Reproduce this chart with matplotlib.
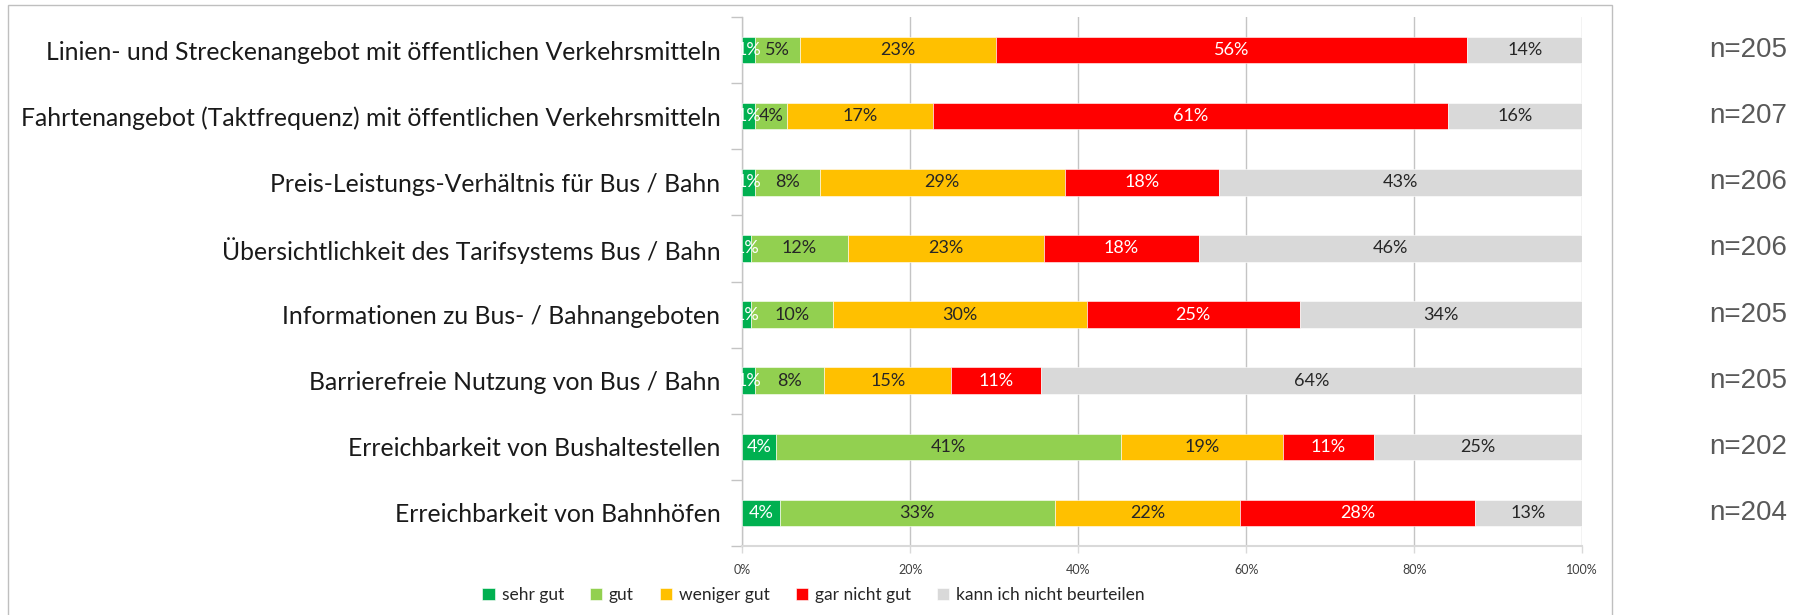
import matplotlib
matplotlib.use("Agg")
import matplotlib.pyplot as plt
from matplotlib.patches import Rectangle
from matplotlib.ticker import FixedLocator, PercentFormatter
import matplotlib.transforms as mtransforms

categories = [
    "Linien- und Streckenangebot mit öffentlichen Verkehrsmitteln",
    "Fahrtenangebot (Taktfrequenz) mit öffentlichen Verkehrsmitteln",
    "Preis-Leistungs-Verhältnis für Bus / Bahn",
    "Übersichtlichkeit des Tarifsystems Bus / Bahn",
    "Informationen zu Bus- / Bahnangeboten",
    "Barrierefreie Nutzung von Bus / Bahn",
    "Erreichbarkeit von Bushaltestellen",
    "Erreichbarkeit von Bahnhöfen",
]
n_labels = ["n=205", "n=207", "n=206", "n=206", "n=205", "n=205", "n=202", "n=204"]

series_names = ["sehr gut", "gut", "weniger gut", "gar nicht gut", "kann ich nicht beurteilen"]
sehr_gut = [1.46, 1.45, 1.46, 0.97, 0.98, 1.46, 3.96, 4.41]
gut = [5.37, 3.86, 7.77, 11.65, 9.76, 8.29, 41.09, 32.84]
weniger_gut = [23.41, 17.39, 29.13, 23.30, 30.24, 15.12, 19.31, 22.06]
gar_nicht_gut = [56.10, 61.35, 18.45, 18.45, 25.37, 10.73, 10.89, 27.94]
kann_nicht = [13.66, 15.94, 43.20, 45.63, 33.66, 64.39, 24.75, 12.75]
series_values = [sehr_gut, gut, weniger_gut, gar_nicht_gut, kann_nicht]

colors = ["#00B050", "#92D050", "#FFC000", "#FF0000", "#D9D9D9"]
label_colors = ["white", "#262626", "#262626", "white", "#262626"]
x_ticks = [0, 20, 40, 60, 80, 100]

W, H = 1799, 615
fig = plt.figure(figsize=(W / 100, H / 100), dpi=100)
ax_left, ax_right = 742.5, 1582.0
ax_top, ax_bottom = 17.0, 546.0
ax = fig.add_axes([ax_left / W, (H - ax_bottom) / H, (ax_right - ax_left) / W, (ax_bottom - ax_top) / H])

ypos = list(range(len(categories)))
lefts = [0.0] * len(categories)
for name, vals, col, lc in zip(series_names, series_values, colors, label_colors):
    ax.barh(ypos, vals, left=lefts, height=0.4, color=col, edgecolor="white",
            linewidth=0.4, label=name, zorder=3)
    for y, l, v in zip(ypos, lefts, vals):
        ax.text(l + v / 2, y, f"{v:.0f}%", ha="center", va="center", color=lc,
                fontsize=13, family="Lato", zorder=4)
    lefts = [a + b for a, b in zip(lefts, vals)]

ax.set_xlim(0, 100)
ax.set_ylim(len(categories) - 0.5, -0.5)
ax.xaxis.set_major_locator(FixedLocator(x_ticks))
ax.xaxis.set_major_formatter(PercentFormatter(decimals=0))
ax.grid(axis="x", color="#c4c4c4", linewidth=1.0, zorder=0)
ax.set_axisbelow(True)
for s in ["top", "right"]:
    ax.spines[s].set_visible(False)
ax.spines["bottom"].set_color("#d9d9d9")
ax.spines["bottom"].set_linewidth(1.5)
ax.spines["left"].set_color("#c4c4c4")
ax.spines["left"].set_linewidth(1.0)
ax.tick_params(axis="x", colors="#d9d9d9", length=5, width=1, labelcolor="#404040",
               labelsize=9, pad=8)
for t in ax.get_xticklabels():
    t.set_family("Lato")

ax.set_yticks(ypos)
ax.set_yticklabels(categories, family="Lato", fontsize=17.8, color="#1a1a1a")
ax.tick_params(axis="y", which="major", length=0, pad=16)
ax.set_yticks([y + 0.5 for y in range(-1, len(categories))], minor=True)
ax.tick_params(axis="y", which="minor", length=8, color="#c4c4c4", width=1)

trans = mtransforms.blended_transform_factory(fig.transFigure, ax.transData)
for y, t in zip(ypos, n_labels):
    ax.text(1787 / W, y, t, transform=trans, ha="right", va="center",
            fontsize=20, color="#595959", family="Liberation Sans", clip_on=False)

leg = fig.legend(loc="center", bbox_to_anchor=(813.5 / W, 1 - 595 / H), ncol=5,
                 frameon=False, prop={"family": "Lato", "size": 12.5},
                 handlelength=0.7, handleheight=0.7, handletextpad=0.4,
                 columnspacing=1.5)
for t in leg.get_texts():
    t.set_color("#262626")

frame = Rectangle((8 / W, -0.2), (1612 - 8) / W, 1.2 - 5 / H, transform=fig.transFigure,
                  fill=False, edgecolor="#bfbfbf", linewidth=1.0, clip_on=False)
fig.patches.append(frame)

fig.savefig("out.png", dpi=100, facecolor="white")
